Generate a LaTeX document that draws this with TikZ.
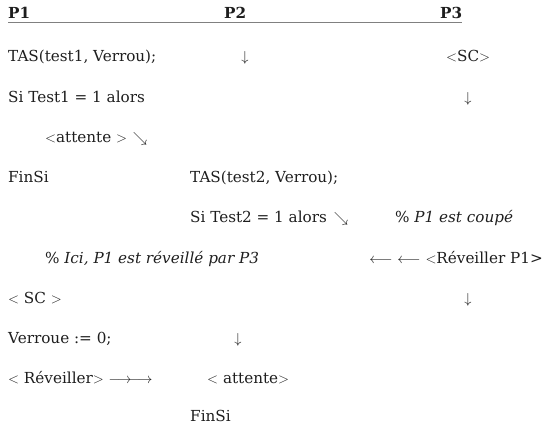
\documentclass[tikz,border=0pt]{standalone}
\usepackage{fontspec}
\setmainfont{DejaVu Serif}
\definecolor{ink}{HTML}{1E1E1E}
\definecolor{rulegray}{HTML}{808080}
\newcommand\bodysize{\fontsize{15.2}{18}\selectfont}
\begin{document}
\begin{tikzpicture}[x=1pt,y=-1pt,
  txt/.style={anchor=base west, inner sep=0pt, text=ink, font=\bodysize},
  hd/.style={txt, font=\bodysize\bfseries},
  arr/.style={anchor=base, inner sep=0pt, text=ink, font=\bodysize},
  headrule/.style={draw=rulegray, line width=1.6pt}]
\useasboundingbox (0,0) rectangle (544,427);

% column headers
\node[hd] (h1) at (8,19) {P1};
\node[hd] (h2) at (224,19) {P2};
\node[hd] (h3) at (440,19) {P3};
\draw[headrule] ([yshift=-3.6pt]h1.base west) -- ([yshift=-3.6pt]h3.base east);

% row 1
\node[txt] (a1) at (8,62) {TAS(test1, Verrou);};
\node[arr] (b1) at (245,62) {$\downarrow$};
\node[txt] (c1) at (446,62) {$<$SC$>$};

% row 2
\node[txt] (a2) at (8,102.5) {Si Test1 = 1 alors};
\node[arr] (c2) at (468,102.5) {$\downarrow$};

% row 3
\node[txt] (a3) at (45,143) {$<$attente $>$};
\node[arr] (a3x) at (140,143) {$\searrow$};

% row 4
\node[txt] (a4) at (8,183) {FinSi};
\node[txt] (b4) at (190,183) {TAS(test2, Verrou);};

% row 5
\node[txt] (b5) at (190,223) {Si Test2 = 1 alors};
\node[arr] (b5x) at (341,223) {$\searrow$};
\node[txt] (c5) at (395,223) {\% \textit{P1 est coupé}};

% row 6
\node[txt] (a6) at (45,263.5) {\% \textit{Ici, P1 est réveillé par P3}};
\node[txt, anchor=base east] (c6) at (543,263.5) {$\longleftarrow$ $\longleftarrow$ $<$Réveiller P1>};

% row 7
\node[txt] (a7) at (8,304) {$<$ SC $>$};
\node[arr] (c7) at (468,304) {$\downarrow$};

% row 8
\node[txt] (a8) at (8,344) {Verroue := 0;};
\node[arr] (b8) at (238,344) {$\downarrow$};

% row 9
\node[txt] (a9) at (8,384) {$<$ Réveiller$>$ $\longrightarrow\!\longrightarrow$};
\node[txt] (b9) at (207,384) {$<$ attente$>$};

% row 10
\node[txt] (b10) at (190,422) {FinSi};
\end{tikzpicture}
\end{document}
